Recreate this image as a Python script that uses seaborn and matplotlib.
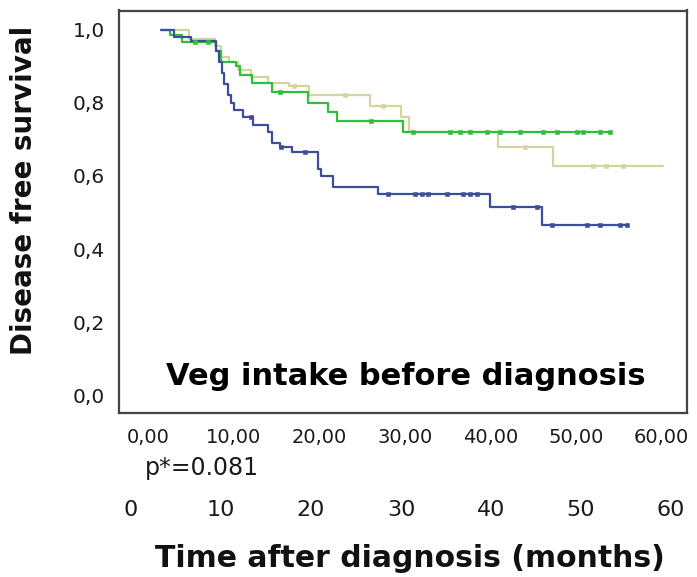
import numpy as np
import pandas as pd
import matplotlib
matplotlib.use("Agg")
import matplotlib.pyplot as plt
import seaborn as sns

# ---- data ----
blue_t = [1.5, 3.0, 5.0, 8.0, 8.3, 8.6, 8.9, 9.3, 9.7, 10.0, 11.1, 12.3, 14.0, 14.5, 15.4, 16.8, 19.9, 20.2, 21.6, 26.9, 40.0, 46.0, 56.0]
blue_s = [1.0, 0.98, 0.97, 0.94, 0.91, 0.88, 0.85, 0.82, 0.80, 0.78, 0.76, 0.74, 0.72, 0.69, 0.68, 0.665, 0.62, 0.60, 0.57, 0.55, 0.515, 0.465, 0.465]
blue_cens = [12.0, 15.5, 18.3, 28.0, 31.2, 32.0, 32.7, 34.9, 36.8, 37.6, 38.4, 42.6, 45.4, 47.2, 51.3, 52.8, 55.1, 56.0]

green_t = [1.5, 2.6, 4.0, 8.0, 8.5, 10.3, 10.7, 12.2, 14.5, 18.7, 21.0, 22.1, 29.8, 54.0]
green_s = [1.0, 0.985, 0.965, 0.94, 0.91, 0.90, 0.877, 0.855, 0.83, 0.80, 0.775, 0.75, 0.72, 0.72]
green_cens = [5.5, 7.0, 15.4, 26.0, 31.0, 35.3, 36.4, 37.6, 39.6, 41.1, 43.5, 46.1, 47.8, 50.1, 50.8, 52.8, 54.0]

pale_t = [1.5, 4.8, 7.8, 8.5, 9.5, 10.5, 12.0, 14.0, 16.5, 18.8, 25.9, 29.5, 30.5, 40.9, 47.3, 60.2]
pale_s = [1.0, 0.975, 0.955, 0.925, 0.91, 0.89, 0.87, 0.855, 0.845, 0.82, 0.79, 0.76, 0.72, 0.68, 0.627, 0.627]
pale_cens = [17.0, 23.0, 27.5, 44.0, 52.0, 53.5, 55.5]

group_names = ["pale", "green", "blue"]
group_colors = ["#d6d49e", "#2fbf3c", "#3e4c9c"]

x_ticks = [0, 10, 20, 30, 40, 50, 60]
x_tick_labels = ["0,00", "10,00", "20,00", "30,00", "40,00", "50,00", "60,00"]
y_ticks = [0.0, 0.2, 0.4, 0.6, 0.8, 1.0]
y_tick_labels = ["0,0", "0,2", "0,4", "0,6", "0,8", "1,0"]
sec_ticks = [0, 10, 20, 30, 40, 50, 60]
sec_labels = ["0", "10", "20", "30", "40", "50", "60"]

title_text = "Veg intake before diagnosis"
p_text = "p*=0.081"
x_label = "Time after diagnosis (months)"
y_label = "Disease free survival"

# ---- tables ----
curves = pd.concat([
    pd.DataFrame({"time": pale_t, "surv": pale_s, "group": "pale"}),
    pd.DataFrame({"time": green_t, "surv": green_s, "group": "green"}),
    pd.DataFrame({"time": blue_t, "surv": blue_s, "group": "blue"}),
], ignore_index=True)


def step_value(times, surv, t):
    idx = np.searchsorted(np.asarray(times), t, side="right") - 1
    return np.asarray(surv)[np.clip(idx, 0, len(surv) - 1)]


cens = pd.concat([
    pd.DataFrame({"time": pale_cens, "surv": step_value(pale_t, pale_s, pale_cens), "group": "pale"}),
    pd.DataFrame({"time": green_cens, "surv": step_value(green_t, green_s, green_cens), "group": "green"}),
    pd.DataFrame({"time": blue_cens, "surv": step_value(blue_t, blue_s, blue_cens), "group": "blue"}),
], ignore_index=True)

# ---- plot ----
sns.set_theme(style="white")
plt.rcParams["font.family"] = ["DejaVu Sans"]

W, H = 697, 577
fig = plt.figure(figsize=(W / 100, H / 100), dpi=100)
ax = fig.add_axes([119 / W, 1 - 413 / H, (687 - 119) / W, (413 - 10.5) / H])

palette = dict(zip(group_names, group_colors))
for g in group_names:
    sub = curves[curves["group"] == g]
    sns.lineplot(data=sub, x="time", y="surv", color=palette[g], ax=ax,
                 drawstyle="steps-post", linewidth=1.6, estimator=None,
                 sort=False, legend=False)
    csub = cens[cens["group"] == g]
    sns.scatterplot(data=csub, x="time", y="surv", color=palette[g], ax=ax,
                    marker="s", s=10, linewidth=0.4,
                    edgecolor=palette[g], legend=False, zorder=3)

ax.set_xlim(-3.39, 62.97)
ax.set_ylim(-0.048, 1.052)
ax.set_xticks(x_ticks)
ax.set_xticklabels(x_tick_labels, fontsize=14)
ax.set_yticks(y_ticks)
ax.set_yticklabels(y_tick_labels, fontsize=14.5)
ax.tick_params(axis="both", direction="out", length=6, width=1.4,
               color="#444444", labelcolor="#1a1a1a")
ax.tick_params(axis="x", pad=5)
ax.tick_params(axis="y", pad=4)
ax.set_xlabel("")
ax.set_ylabel("")
for side in ["left", "bottom", "top", "right"]:
    ax.spines[side].set_visible(True)
    ax.spines[side].set_color("#444444")
    ax.spines[side].set_linewidth(1.6)

ax.text(0.505, 0.0697, title_text, transform=ax.transAxes, ha="center",
        va="baseline", fontsize=22, fontweight="bold", color="black")

# secondary month scale shown below the axis
sec = ax.secondary_xaxis(-0.205, functions=(lambda t: (t + 1.99) * 60 / 63.09,
                                            lambda s: s * 63.09 / 60 - 1.99))
sec.set_xticks(sec_ticks)
sec.set_xticklabels(sec_labels, fontsize=16, color="#1a1a1a")
sec.tick_params(length=0, pad=3)
sec.spines["bottom"].set_visible(False)

fig.text(145 / W, 1 - 475 / H, p_text, ha="left", va="baseline",
         fontsize=17, color="#1a1a1a")
fig.text(410 / W, 1 - 567 / H, x_label, ha="center", va="baseline",
         fontsize=21.5, fontweight="bold", color="#111111")
fig.text(24 / W, 1 - 190 / H, y_label, ha="center", va="center",
         rotation=90, fontsize=20, fontweight="bold", color="#111111")

fig.savefig("out.png", dpi=100, facecolor="white")
